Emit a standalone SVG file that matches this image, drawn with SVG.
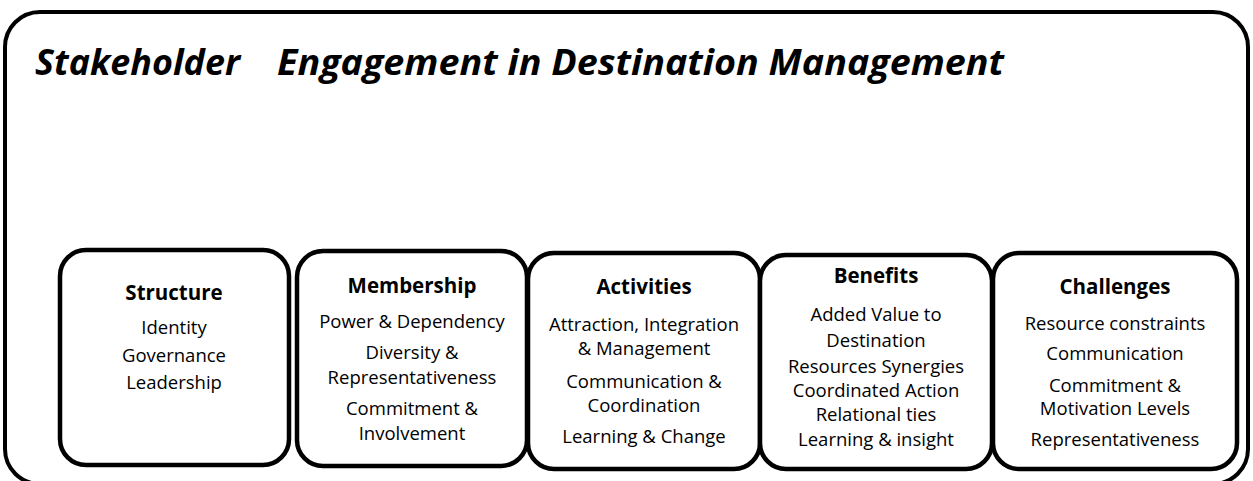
<svg xmlns="http://www.w3.org/2000/svg" width="1253" height="481" viewBox="0 0 1253 481">
<style>
.frame{fill:#fff;stroke:#000;stroke-width:4}
.box{fill:#fff;stroke:#000;stroke-width:4.5}
.title{font-family:"Open Sans","Liberation Sans",sans-serif;font-weight:bold;font-style:italic;font-size:35px;fill:#000}
.h{font-family:"Open Sans","Liberation Sans",sans-serif;font-weight:bold;font-size:20.5px;fill:#000;text-anchor:middle}
.t{font-family:"Open Sans","Liberation Sans",sans-serif;font-size:18.5px;fill:#000;text-anchor:middle}
</style>
<rect width="1253" height="481" fill="#fff"/>
<g id="frame">
<rect class="frame" x="5" y="12" width="1243" height="472" rx="35" ry="35"/>
<text class="title" x="35" y="75" textLength="205" lengthAdjust="spacingAndGlyphs">Stakeholder</text>
<text class="title" x="277" y="75" textLength="727" lengthAdjust="spacingAndGlyphs">Engagement in Destination Management</text>
</g>
<g id="connectors"></g>
<g id="structure">
<rect class="box" x="60" y="250" width="229" height="215" rx="26"/>
<text class="h" x="174" y="300">Structure</text>
<text class="t" x="174" y="334">Identity</text>
<text class="t" x="174" y="362">Governance</text>
<text class="t" x="174" y="389">Leadership</text>
</g>
<g id="membership">
<rect class="box" x="297" y="251" width="230" height="215" rx="26"/>
<text class="h" x="412" y="293">Membership</text>
<text class="t" x="412" y="328">Power &amp; Dependency</text>
<text class="t" x="412" y="359">Diversity &amp;</text>
<text class="t" x="412" y="384">Representativeness</text>
<text class="t" x="412" y="415">Commitment &amp;</text>
<text class="t" x="412" y="440">Involvement</text>
</g>
<g id="activities">
<rect class="box" x="528" y="253" width="232" height="216" rx="26"/>
<text class="h" x="644" y="294">Activities</text>
<text class="t" x="644" y="331">Attraction, Integration</text>
<text class="t" x="644" y="355">&amp; Management</text>
<text class="t" x="644" y="388">Communication &amp;</text>
<text class="t" x="644" y="412">Coordination</text>
<text class="t" x="644" y="443">Learning &amp; Change</text>
</g>
<g id="benefits">
<rect class="box" x="760" y="255" width="232" height="214" rx="26"/>
<text class="h" x="876" y="283">Benefits</text>
<text class="t" x="876" y="321">Added Value to</text>
<text class="t" x="876" y="347">Destination</text>
<text class="t" x="876" y="373">Resources Synergies</text>
<text class="t" x="876" y="397">Coordinated Action</text>
<text class="t" x="876" y="421">Relational ties</text>
<text class="t" x="876" y="446">Learning &amp; insight</text>
</g>
<g id="challenges">
<rect class="box" x="993" y="253" width="244" height="216" rx="26"/>
<text class="h" x="1115" y="294">Challenges</text>
<text class="t" x="1115" y="330">Resource constraints</text>
<text class="t" x="1115" y="360">Communication</text>
<text class="t" x="1115" y="392">Commitment &amp;</text>
<text class="t" x="1115" y="415">Motivation Levels</text>
<text class="t" x="1115" y="446">Representativeness</text>
</g>
</svg>
